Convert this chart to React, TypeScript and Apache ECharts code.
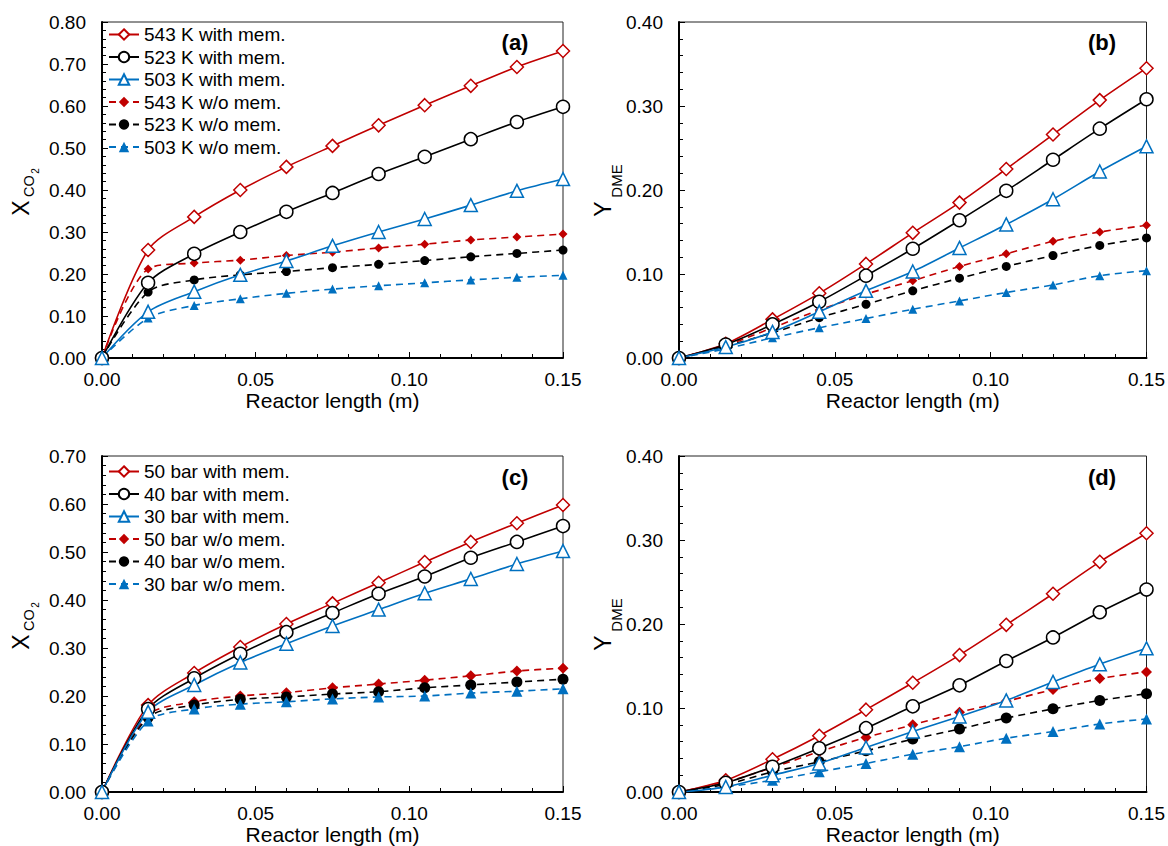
import React, { useEffect, useRef } from "react";
import * as echarts from "echarts";

// Reactor length (m)
const xs = [0, 0.015, 0.03, 0.045, 0.06, 0.075, 0.09, 0.105, 0.12, 0.135, 0.15];

// Panel (a): X_CO2 vs temperature
const legendA = ["543 K with mem.", "523 K with mem.", "503 K with mem.", "543 K w/o mem.", "523 K w/o mem.", "503 K w/o mem."];
const a543m = [0, 0.257, 0.336, 0.4, 0.455, 0.505, 0.554, 0.602, 0.648, 0.693, 0.731];
const a523m = [0, 0.179, 0.248, 0.3, 0.348, 0.393, 0.438, 0.479, 0.521, 0.562, 0.598];
const a503m = [0, 0.11, 0.158, 0.198, 0.231, 0.267, 0.3, 0.331, 0.364, 0.398, 0.426];
const a543 = [0, 0.212, 0.226, 0.233, 0.244, 0.252, 0.262, 0.271, 0.281, 0.288, 0.295];
const a523 = [0, 0.157, 0.186, 0.198, 0.206, 0.215, 0.223, 0.232, 0.241, 0.249, 0.257];
const a503 = [0, 0.095, 0.125, 0.141, 0.154, 0.164, 0.172, 0.179, 0.186, 0.192, 0.197];

// Panel (b): Y_DME vs temperature
const b543m = [0, 0.017, 0.046, 0.077, 0.112, 0.149, 0.185, 0.225, 0.266, 0.307, 0.345];
const b523m = [0, 0.016, 0.04, 0.067, 0.098, 0.13, 0.164, 0.199, 0.236, 0.273, 0.308];
const b503m = [0, 0.013, 0.031, 0.055, 0.08, 0.103, 0.131, 0.159, 0.189, 0.222, 0.252];
const b543 = [0, 0.015, 0.036, 0.057, 0.076, 0.092, 0.109, 0.124, 0.139, 0.15, 0.158];
const b523 = [0, 0.014, 0.03, 0.048, 0.064, 0.08, 0.095, 0.109, 0.122, 0.134, 0.143];
const b503 = [0, 0.011, 0.024, 0.036, 0.047, 0.058, 0.068, 0.078, 0.087, 0.098, 0.104];

// Panel (c): X_CO2 vs pressure
const legendC = ["50 bar with mem.", "40 bar with mem.", "30 bar with mem.", "50 bar w/o mem.", "40 bar w/o mem.", "30 bar w/o mem."];
const c50m = [0, 0.181, 0.248, 0.302, 0.35, 0.393, 0.436, 0.479, 0.521, 0.56, 0.598];
const c40m = [0, 0.173, 0.237, 0.288, 0.333, 0.373, 0.413, 0.449, 0.488, 0.521, 0.554];
const c30m = [0, 0.167, 0.223, 0.27, 0.309, 0.346, 0.38, 0.414, 0.444, 0.475, 0.502];
const c50 = [0, 0.16, 0.188, 0.2, 0.207, 0.217, 0.225, 0.233, 0.242, 0.252, 0.258];
const c40 = [0, 0.155, 0.181, 0.193, 0.198, 0.204, 0.209, 0.217, 0.223, 0.229, 0.235];
const c30 = [0, 0.148, 0.173, 0.183, 0.188, 0.194, 0.198, 0.2, 0.206, 0.21, 0.215];

// Panel (d): Y_DME vs pressure
const d50m = [0, 0.014, 0.039, 0.067, 0.098, 0.13, 0.163, 0.199, 0.236, 0.274, 0.308];
const d40m = [0, 0.011, 0.03, 0.052, 0.076, 0.102, 0.127, 0.156, 0.184, 0.214, 0.241];
const d30m = [0, 0.006, 0.02, 0.034, 0.053, 0.072, 0.09, 0.109, 0.131, 0.152, 0.171];
const d50 = [0, 0.012, 0.029, 0.048, 0.065, 0.08, 0.095, 0.108, 0.122, 0.135, 0.143];
const d40 = [0, 0.009, 0.024, 0.036, 0.049, 0.063, 0.075, 0.088, 0.099, 0.109, 0.117];
const d30 = [0, 0.006, 0.014, 0.024, 0.034, 0.045, 0.054, 0.064, 0.072, 0.081, 0.087];

const yMax = [0.8, 0.4, 0.7, 0.4];
const panelLabels = ["(a)", "(b)", "(c)", "(d)"];

const RED = "#C00000";
const BLUE = "#0070C0";
const BLACK = "#000000";
const FONT = "'Liberation Sans', Arial, sans-serif";

type Sty = { color: string; symbol: string; open: boolean; dashed: boolean; size: number };

function mkSeries(name: string, ys: number[], idx: number, s: Sty) {
  return {
    type: "line",
    name,
    xAxisIndex: idx,
    yAxisIndex: idx,
    data: xs.map((x, i) => [x, ys[i]]),
    smooth: 0.3,
    symbol: s.symbol,
    symbolSize: s.size,
    showSymbol: true,
    lineStyle: { color: s.color, width: 1.6, type: s.dashed ? [7, 5] : "solid" },
    itemStyle: s.open
      ? { color: "#ffffff", borderColor: s.color, borderWidth: 1.5 }
      : { color: s.color, borderColor: s.color, borderWidth: 0 },
    z: s.open ? 3 : 2,
  };
}

function panelSeries(names: string[], sets: number[][], idx: number, big: boolean) {
  const f = big ? 11 : 9;
  const stys: Sty[] = [
    { color: RED, symbol: "diamond", open: true, dashed: false, size: 13 },
    { color: BLACK, symbol: "circle", open: true, dashed: false, size: 13 },
    { color: BLUE, symbol: "triangle", open: true, dashed: false, size: 13 },
    { color: RED, symbol: "diamond", open: false, dashed: true, size: f },
    { color: BLACK, symbol: "circle", open: false, dashed: true, size: f },
    { color: BLUE, symbol: "triangle", open: false, dashed: true, size: f },
  ];
  return sets.map((ys, i) => mkSeries(names[i], ys, idx, stys[i]));
}

function rotText(text: string, x: number, y: number, size: number) {
  return {
    type: "text",
    x,
    y,
    rotation: Math.PI / 2,
    z: 10,
    style: { text, fill: "#000", font: `${size}px ${FONT}`, align: "center", verticalAlign: "middle" },
  };
}

export default function App() {
  const ref = useRef<HTMLDivElement>(null);
  useEffect(() => {
    if (!ref.current) return;
    const chart = echarts.init(ref.current, undefined, { renderer: "svg" });
    const grids = [
      { left: 102, top: 22, width: 461, height: 336 },
      { left: 679, top: 22, width: 469, height: 336 },
      { left: 102, top: 456, width: 461, height: 336 },
      { left: 679, top: 456, width: 469, height: 336 },
    ];
    const xAxes = grids.map((_, i) => ({
      type: "value",
      gridIndex: i,
      min: 0,
      max: 0.15,
      interval: 0.05,
      axisLine: { show: true, onZero: false, lineStyle: { color: "#000", width: 2 } },
      axisTick: { show: true, inside: true, length: 6, lineStyle: { color: "#000", width: 1 } },
      minorTick: { show: true, splitNumber: 5, length: 4, lineStyle: { color: "#000", width: 1 } },
      splitLine: { show: false },
      axisLabel: { formatter: (v: number) => v.toFixed(2), fontSize: 19, color: "#000", margin: 12, fontFamily: FONT },
      name: "Reactor length (m)",
      nameLocation: "middle",
      nameGap: 32,
      nameTextStyle: { fontSize: 21, color: "#000", fontFamily: FONT },
    }));
    const yAxes = grids.map((_, i) => ({
      type: "value",
      gridIndex: i,
      min: 0,
      max: yMax[i],
      interval: 0.1,
      axisLine: { show: true, onZero: false, lineStyle: { color: "#000", width: 2 } },
      axisTick: { show: true, inside: true, length: 6, lineStyle: { color: "#000", width: 1 } },
      minorTick: { show: true, splitNumber: 5, length: 4, lineStyle: { color: "#000", width: 1 } },
      splitLine: { show: false },
      axisLabel: { formatter: (v: number) => v.toFixed(2), fontSize: 19, color: "#000", margin: 16, fontFamily: FONT },
    }));
    const series = [
      ...panelSeries(legendA, [a543m, a523m, a503m, a543, a523, a503], 0, false),
      ...panelSeries(legendA, [b543m, b523m, b503m, b543, b523, b503], 1, false),
      ...panelSeries(legendC, [c50m, c40m, c30m, c50, c40, c30], 2, true),
      ...panelSeries(legendC, [d50m, d40m, d30m, d50, d40, d30], 3, true),
    ];
    const legendBase = {
      orient: "vertical",
      left: 103,
      itemWidth: 30,
      itemHeight: 13,
      itemGap: 3.5,
      textStyle: { fontSize: 19, color: "#000", fontFamily: FONT },
      selectedMode: false,
    };
    const labelPos = [
      [515, 42],
      [1102, 42],
      [515, 477],
      [1102, 477],
    ];
    const titles: any[] = [];
    [0, 434].forEach((dy) => {
      titles.push(rotText("X", 21, 208 + dy, 23));
      titles.push(rotText("CO", 28.5, 186 + dy, 14.5));
      titles.push(rotText("2", 35.5, 171 + dy, 10));
      titles.push(rotText("Y", 603, 209 + dy, 23));
      titles.push(rotText("DME", 616, 181 + dy, 15));
    });
    chart.setOption({
      animation: false,
      backgroundColor: "#ffffff",
      grid: grids.map((g) => ({ ...g, show: true, borderColor: "#222", borderWidth: 1, backgroundColor: "transparent" })),
      xAxis: xAxes,
      yAxis: yAxes,
      legend: [
        { ...legendBase, top: 20, data: legendA },
        { ...legendBase, top: 457, data: legendC },
      ],
      graphic: [
        ...panelLabels.map((t, i) => ({
          type: "text",
          x: labelPos[i][0],
          y: labelPos[i][1],
          z: 10,
          style: { text: t, fill: "#000", font: `bold 22px ${FONT}`, align: "center", verticalAlign: "middle" },
        })),
        ...titles,
      ],
      series,
    });
    return () => chart.dispose();
  }, []);
  return <div ref={ref} style={{ position: "fixed", left: 0, top: 0, width: 1168, height: 846 }} />;
}
